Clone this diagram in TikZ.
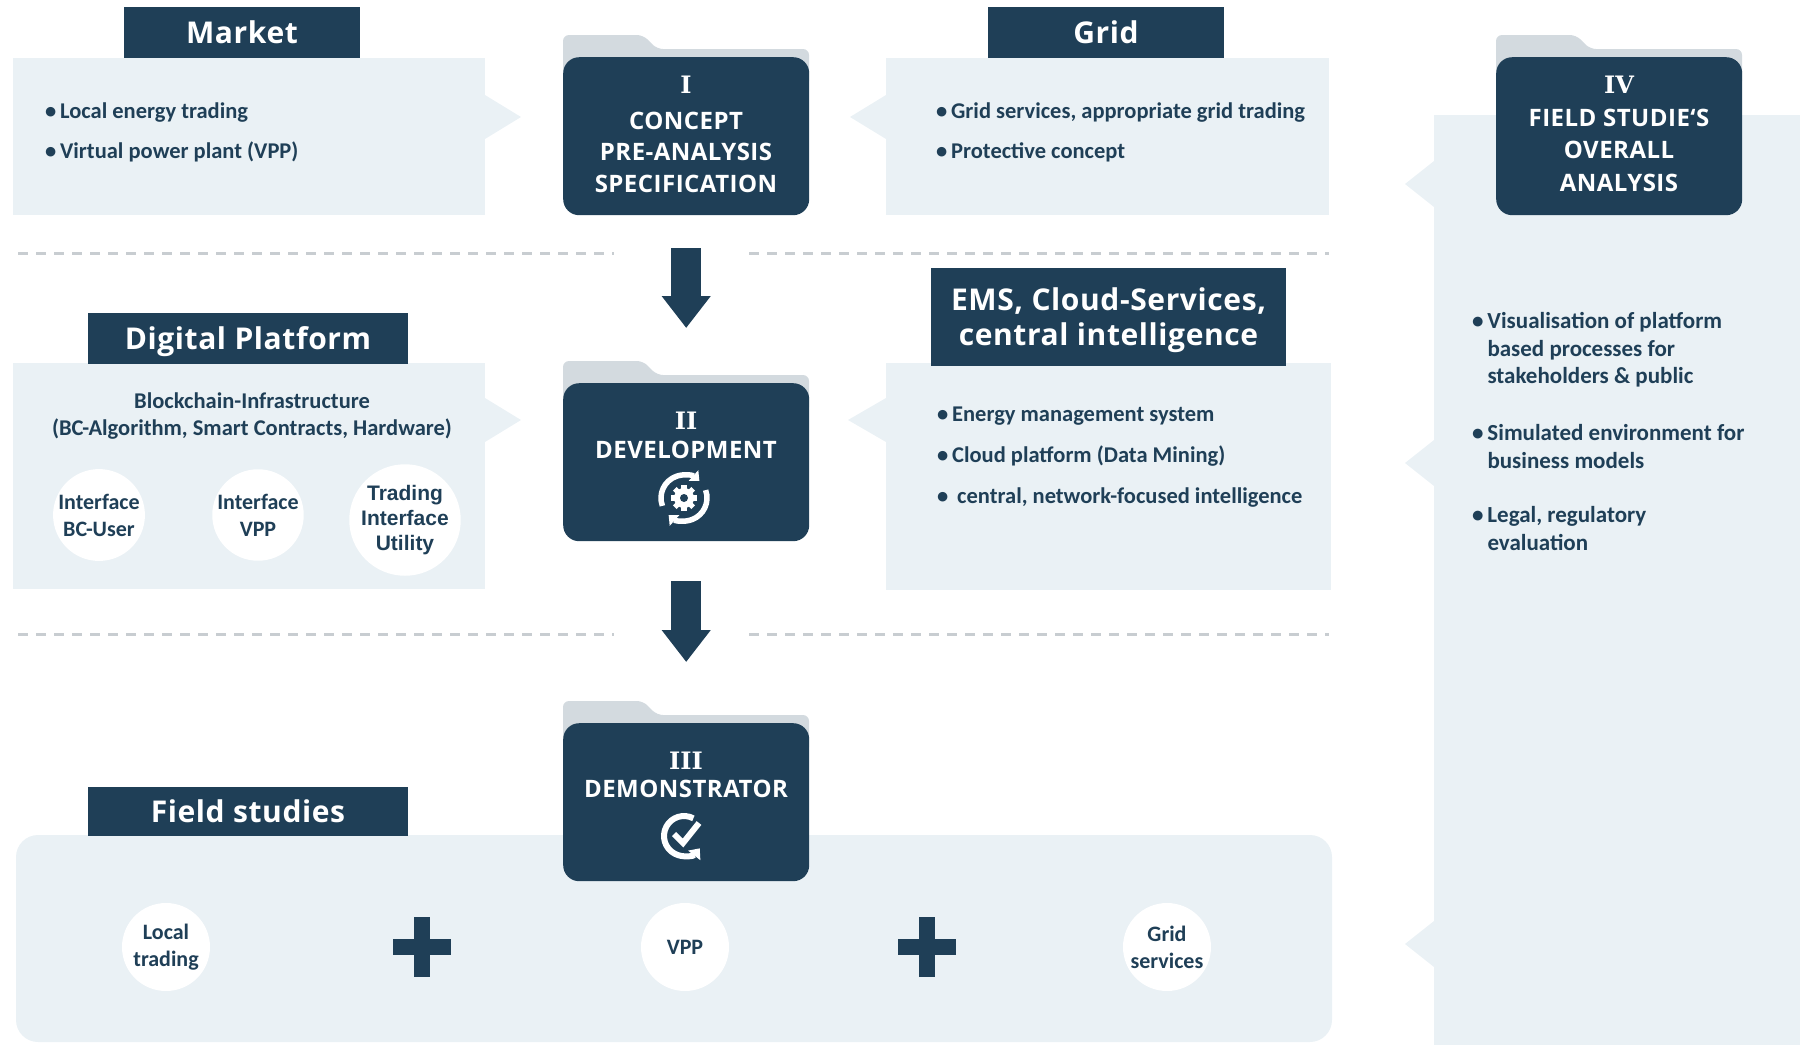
\documentclass[tikz,border=0pt]{standalone}
\usepackage{fontspec}
\setmainfont{Carlito}
\newfontfamily\headfont[LetterSpace=2]{Open Sans}
\newfontfamily\numfont{DejaVu Serif}
\newfontfamily\arialfont{Liberation Sans}
\usetikzlibrary{arrows.meta}

\definecolor{navy}{HTML}{1F3F57}
\definecolor{pale}{HTML}{EAF1F5}
\definecolor{tabgray}{HTML}{D3DADF}
\definecolor{dashgray}{HTML}{C8CDD1}

\newcommand\bul{•\,}

\tikzset{
  header/.style={fill=navy, text=white, inner sep=0pt, minimum height=51pt, text depth=0pt,
    font=\headfont\bfseries\fontsize{30}{35}\selectfont},
  bodytext/.style={text=navy, align=left, inner sep=0pt, anchor=west,
    font=\bfseries\fontsize{22.5}{#1}\selectfont},
  bodytext/.default=28,
  folder/.style={fill=navy, rounded corners=16pt, inner sep=0pt, anchor=north west,
    minimum width=246pt, minimum height=158pt},
  foldertext/.style={text=white, align=center, inner sep=0pt,
    font=\headfont\bfseries\fontsize{24}{#1}\selectfont},
  foldertext/.default=32,
  numeral/.style={text=white, inner sep=0pt, font=\numfont\bfseries\fontsize{24}{24}\selectfont},
  bubble/.style={circle, fill=white, text=navy, align=center, inner sep=0pt,
    minimum size=88pt, font=\bfseries\fontsize{22}{27}\selectfont},
  blockarrow/.style={navy, line width=30pt, -{Triangle[width=47pt,length=32pt]}},
  separator/.style={dashgray, line width=3pt, dash pattern=on 10pt off 8pt},
  foldertab/.pic={
    \fill[tabgray, rounded corners=6pt] (0,30) -- (0,-22) -- (80,-22) -- (94,-8) -- (246,-8) -- (246,30) -- cycle;
  }
}

\begin{document}
\begin{tikzpicture}[x=1pt, y=-1pt]
\useasboundingbox (0,0) rectangle (1800,1045);

% panels
\fill[pale] (13,58) rectangle (485,215);
\fill[pale] (485,95) -- (521,117) -- (485,139) -- cycle;
\fill[pale] (886,58) rectangle (1329,215);
\fill[pale] (886,95) -- (850,117) -- (886,139) -- cycle;
\fill[pale] (13,363) rectangle (485,589);
\fill[pale] (485,398) -- (521,420) -- (485,442) -- cycle;
\fill[pale] (886,363) rectangle (1331,590);
\fill[pale] (886,398) -- (848,420) -- (886,442) -- cycle;
\fill[pale, rounded corners=22pt] (16,835) rectangle (1332,1042);
\fill[pale] (1434,115) rectangle (1800,1045);
\foreach \y in {184,463,944}
  \fill[pale] (1434,\y-23) -- (1405,\y) -- (1434,\y+23) -- cycle;

% separators
\draw[separator] (18,253) -- (614,253);
\draw[separator] (749,253) -- (1329,253);
\draw[separator] (18,634) -- (614,634);
\draw[separator] (749,634) -- (1329,634);

% headers
\node[header, minimum width=236pt] (market) at (242,32.5) {Market};
\node[header, minimum width=236pt] (grid) at (1106,32.5) {Grid};
\node[header, minimum width=320pt] (digital) at (248,338.5) {Digital Platform};
\node[header, minimum width=355pt, minimum height=98pt, align=center] (ems) at (1108.5,317) {EMS, Cloud-Services,\\central intelligence};
\node[header, minimum width=320pt, minimum height=49pt] (field) at (248,811) {Field studies};

% lists
\node[bodytext=40] (mktlist) at (45,132) {\bul Local energy trading\\\bul Virtual power plant (VPP)};
\node[bodytext=40] (gridlist) at (936,132) {\bul Grid services, appropriate grid trading\\\bul Protective concept};
\node[bodytext=41] (emslist) at (937,457) {\bul Energy management system\\\bul Cloud platform (Data Mining)\\\bul\ central, network-focused intelligence};
\node[bodytext=27, align=center, anchor=center] (chain) at (252,416) {Blockchain-Infrastructure\\(BC-Algorithm, Smart Contracts, Hardware)};
\node[bodytext=27.5, font=\bfseries\fontsize{23}{27.5}\selectfont] (vis) at (1472,350) {\bul Visualisation of platform\\\phantom{\bul}based processes for\\\phantom{\bul}stakeholders \& public};
\node[bodytext=27.5, font=\bfseries\fontsize{23}{27.5}\selectfont] (sim) at (1472,446.5) {\bul Simulated environment for\\\phantom{\bul}business models};
\node[bodytext=27.5, font=\bfseries\fontsize{23}{27.5}\selectfont] (legal) at (1472,528.5) {\bul Legal, regulatory\\\phantom{\bul}evaluation};

% circles
\node[bubble] (bcuser) at (99,515) {Interface\\BC-User};
\node[bubble] (ivpp) at (258,515) {Interface\\VPP};
\node[bubble, font=\arialfont\bfseries\fontsize{21}{25}\selectfont] (utility) at (405,520) {Trading\\Interface\\Utility};
\node[bubble] (local) at (166,947) {Local\\trading};
\node[bubble] (vpp) at (685,947) {VPP};
\node[bubble] (gserv) at (1167,947) {Grid\\services};
\foreach \x in {422,927} {
  \fill[navy] (\x-8,917) rectangle (\x+8,977);
  \fill[navy] (\x-29,939) rectangle (\x+29,955);
}

% folders
\path (563,57) pic {foldertab};
\node[folder] (f1) at (563,57) {};
\node[numeral] (n1) at (686,85) {I};
\node[foldertext=31.5] (t1) at (686,152) {CONCEPT\\PRE-ANALYSIS\\SPECIFICATION};

\path (563,383) pic {foldertab};
\node[folder] (f2) at (563,383) {};
\node[numeral] (n2) at (686,421) {II};
\node[foldertext] (t2) at (686,450) {DEVELOPMENT};

\path (563,723) pic {foldertab};
\node[folder] (f3) at (563,723) {};
\node[numeral] (n3) at (686,761) {III};
\node[foldertext] (t3) at (686,789) {DEMONSTRATOR};

\path (1496,57) pic {foldertab};
\node[folder] (f4) at (1496,57) {};
\node[numeral] (n4) at (1619,85) {IV};
\node[foldertext=32.5] (t4) at (1619,150) {FIELD STUDIE‘S\\OVERALL\\ANALYSIS};

% arrows
\draw[blockarrow] ([yshift=-33pt]f1.south) -- ([yshift=55pt]f2.north);
\draw[blockarrow] ([yshift=-40pt]f2.south) -- ([yshift=61pt]f3.north);

% development icon
\begin{scope}[shift={(684,498)}, yscale=-1]
  \draw[white, line width=5.5pt, -{Triangle[width=14pt,length=8pt]}] (200:23) arc[start angle=200, end angle=48, radius=23];
  \draw[white, line width=5.5pt, -{Triangle[width=14pt,length=8pt]}] (20:23) arc[start angle=20, end angle=-132, radius=23];
  \foreach \a in {0,45,...,315}
    \fill[white, rotate=\a] (-2.6,7) rectangle (2.6,13);
  \fill[white] (0,0) circle (10);
  \fill[navy] (0,0) circle (4);
\end{scope}

% demonstrator icon
\begin{scope}[shift={(684,836)}, yscale=-1]
  \draw[white, line width=6pt, -{Triangle[width=15pt,length=9pt]}] (62:20) arc[start angle=62, end angle=322, radius=20];
  \draw[white, line width=6pt] (-10,2) -- (-1,-7) -- (15,13);
\end{scope}

\end{tikzpicture}
\end{document}
